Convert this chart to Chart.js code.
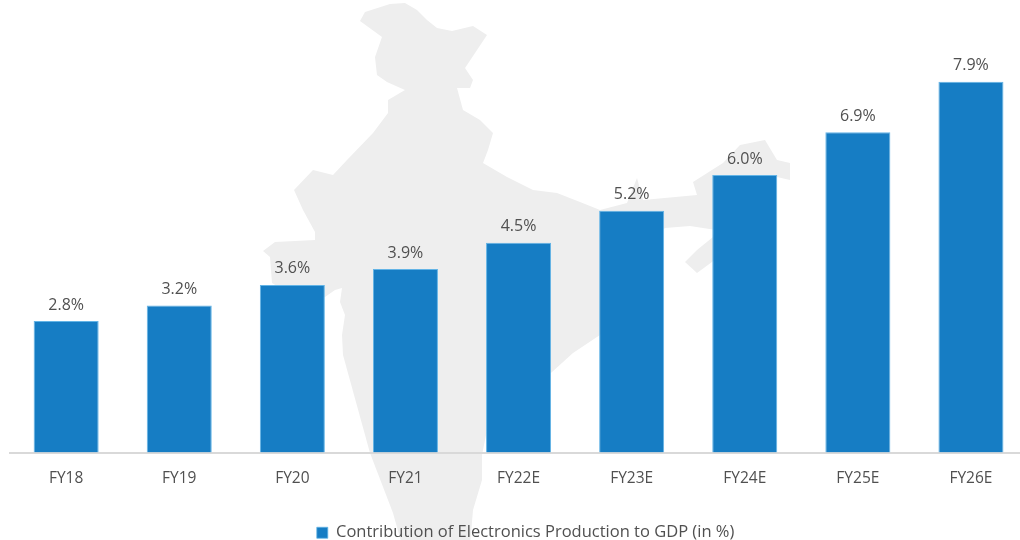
<!DOCTYPE html>
<html>
<head>
<meta charset="utf-8">
<script src="https://cdn.jsdelivr.net/npm/chart.js@4"></script>
<style>
  html, body { margin: 0; background: #fff; }
  #wrap { width: 1020px; height: 540px; overflow: hidden; position: relative; }
  canvas { display: block; filter: blur(0.55px); }
</style>
</head>
<body>
<div id="wrap"><canvas id="chart" width="1054" height="540"></canvas></div>
<script>
const categories = ['FY18', 'FY19', 'FY20', 'FY21', 'FY22E', 'FY23E', 'FY24E', 'FY25E', 'FY26E'];
// bar heights as drawn in the picture (they sit a little under the printed labels)
const barValues = [2.8, 3.13, 3.57, 3.91, 4.47, 5.15, 5.91, 6.82, 7.9];
const valueLabels = ['2.8%', '3.2%', '3.6%', '3.9%', '4.5%', '5.2%', '6.0%', '6.9%', '7.9%'];
const seriesName = 'Contribution of Electronics Production to GDP (in %)';

const FONT = '"Open Sans", sans-serif';
const TEXT = '#505050';
const BAR = '#167dc4';

// background map of India, canvas pixels (decoration only, not data)
const MAP_OUTLINE = [
  [402,545],[393,513],[370,453],[343,355],[342,335],[345,315],[340,302],[342,288],[335,290],[325,297],
  [300,300],[272,283],[270,257],[263,251],[275,242],[315,240],[315,232],[303,210],[294,190],[313,170],
  [333,175],[347,160],[373,133],[388,113],[388,100],[405,90],[387,82],[377,75],[375,57],[382,37],
  [360,21],[365,12],[390,4],[405,3],[417,10],[427,20],[437,28],[452,31],[473,26],[487,35],
  [477,50],[465,68],[473,80],[470,88],[457,88],[463,110],[480,120],[493,133],[488,150],[483,163],
  [507,177],[533,190],[557,193],[580,202],[600,210],[627,203],[637,178],[643,200],[697,195],[693,182],
  [723,163],[740,145],[765,140],[777,160],[790,163],[790,180],[777,177],[745,195],[735,215],[725,230],
  [722,255],[712,262],[697,273],[685,262],[697,250],[713,237],[716,230],[690,226],[665,228],[650,240],
  [600,335],[573,353],[552,372],[487,430],[482,455],[482,480],[473,510],[470,545],
];

const mapPlugin = {
  id: 'indiaMap',
  beforeDraw(chart) {
    const ctx = chart.ctx;
    ctx.save();
    ctx.fillStyle = '#eeeeee';
    ctx.beginPath();
    MAP_OUTLINE.forEach(([x, y], i) => (i ? ctx.lineTo(x, y) : ctx.moveTo(x, y)));
    ctx.closePath();
    ctx.fill();
    ctx.restore();
  },
};

const valueLabelPlugin = {
  id: 'valueLabels',
  afterDatasetsDraw(chart) {
    const ctx = chart.ctx;
    ctx.save();
    ctx.font = '16px ' + FONT;
    ctx.fillStyle = TEXT;
    ctx.textAlign = 'center';
    ctx.textBaseline = 'middle';
    chart.getDatasetMeta(0).data.forEach((bar, i) => {
      ctx.fillText(valueLabels[i], bar.x, bar.y - 16);
    });
    ctx.restore();
  },
};

// legend sits lower and right of where the layout puts it
const legendShift = {
  id: 'legendShift',
  afterLayout(chart) {
    chart.legend.left += 7;
    chart.legend.right += 7;
    chart.legend.top += 11;
    chart.legend.bottom += 11;
  },
};

new Chart(document.getElementById('chart'), {
  type: 'bar',
  data: {
    labels: categories,
    datasets: [{
      label: seriesName,
      data: barValues,
      backgroundColor: BAR,
      borderColor: '#63b4e6',
      borderWidth: { top: 1, left: 1, right: 1, bottom: 0 },
      borderSkipped: false,
      barPercentage: 0.575,
      categoryPercentage: 1,
    }],
  },
  plugins: [mapPlugin, valueLabelPlugin, legendShift],
  options: {
    responsive: false,
    animation: false,
    layout: { padding: { left: 9.6, right: 26.5, top: 30, bottom: 0 } },
    plugins: {
      tooltip: { enabled: false },
      legend: {
        position: 'bottom',
        labels: {
          color: TEXT,
          font: { family: FONT, size: 16.5 },
          boxWidth: 11,
          boxHeight: 11,
          padding: 4,
        },
      },
    },
    scales: {
      x: {
        grid: { display: false },
        border: { color: '#d9d9d9', width: 2 },
        ticks: { color: TEXT, font: { family: FONT, size: 15.5 }, padding: 9, maxRotation: 0 },
        afterFit(scale) { scale.height = 57; },
      },
      y: { display: false, min: 0, max: 9 },
    },
  },
});
</script>
</body>
</html>
